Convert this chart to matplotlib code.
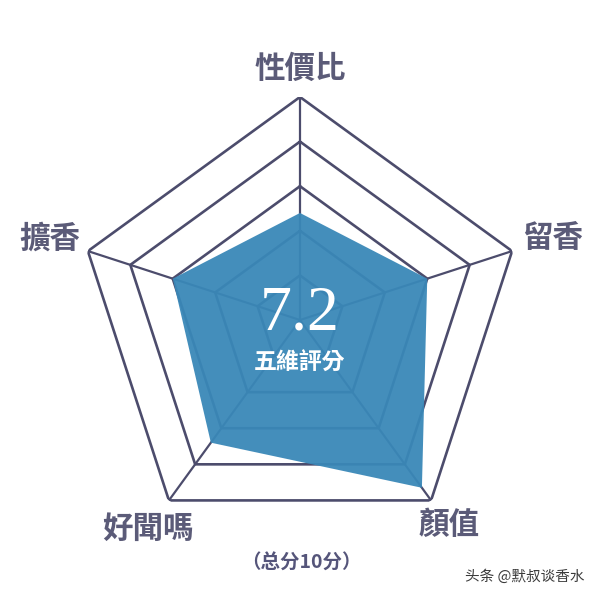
import numpy as np
import matplotlib
matplotlib.use("Agg")
import matplotlib.pyplot as plt

plt.rcParams['font.family'] = ['Noto Sans CJK TC', 'DejaVu Sans']

categories = ["性價比", "留香", "顏值", "好聞嗎", "擴香"]
values = [4.8, 6.0, 9.3, 6.8, 6.0]
ring_levels = [2, 4, 6, 8, 10]
score_text = "7.2"
score_label = "五維評分"
note_text = "（总分10分）"
watermark = "头条 @默叔谈香水"

line_color = "#4c4c6c"
fill_color = "#3a88b8"
label_color = "#5b5b78"

fig = plt.figure(figsize=(6, 6), dpi=100)
fig.patch.set_facecolor("white")
R_px = 223
cx, cy = 300, 320
ax = fig.add_axes([(cx - R_px) / 600, 1 - (cy + R_px) / 600, 2 * R_px / 600, 2 * R_px / 600],
                  projection="polar")
ax.set_theta_offset(np.pi / 2)
ax.set_theta_direction(-1)
ax.set_ylim(0, 10)
ax.grid(False)
ax.spines["polar"].set_visible(False)
ax.set_xticks([])
ax.set_yticks([])
ax.patch.set_alpha(0)

n = len(categories)
theta = np.linspace(0, 2 * np.pi, n, endpoint=False)
theta_closed = np.concatenate([theta, theta[:1]])

for lv in ring_levels:
    ax.plot(theta_closed, [lv] * (n + 1), color=line_color, lw=1.9, zorder=2,
            solid_joinstyle="miter")
for t in theta:
    ax.plot([t, t], [0, ring_levels[-1]], color=line_color, lw=1.6, zorder=2)

vals_closed = values + values[:1]
ax.fill(theta_closed, vals_closed, color=fill_color, alpha=0.95, zorder=3, lw=0)

label_r = [11.25, 11.9, 11.35, 11.6, 11.8]
for t, lab, r in zip(theta, categories, label_r):
    ax.text(t, r, lab, ha="center", va="center", fontsize=22, color=label_color,
            fontweight="bold", zorder=5)

ax.text(0.5, 0.512, score_text, transform=ax.transAxes, ha="center", va="center",
        fontsize=46, color="white", family=["Liberation Serif", "DejaVu Serif"], zorder=6)
ax.text(0.5, 0.404, score_label, transform=ax.transAxes, ha="center", va="center",
        fontsize=16.5, color="white", fontweight="bold", zorder=6)

fig.text(0.503, 1 - 563 / 600, note_text, ha="center", va="center", fontsize=14,
         color="#55557a", fontweight="bold", family=["Noto Sans CJK SC", "DejaVu Sans"])
fig.text(0.875, 1 - 577 / 600, watermark, ha="center", va="center", fontsize=10.5,
         color="#3a3a3a", family=["Noto Sans CJK SC", "DejaVu Sans"])

fig.savefig("out.png", dpi=100, facecolor="white")
